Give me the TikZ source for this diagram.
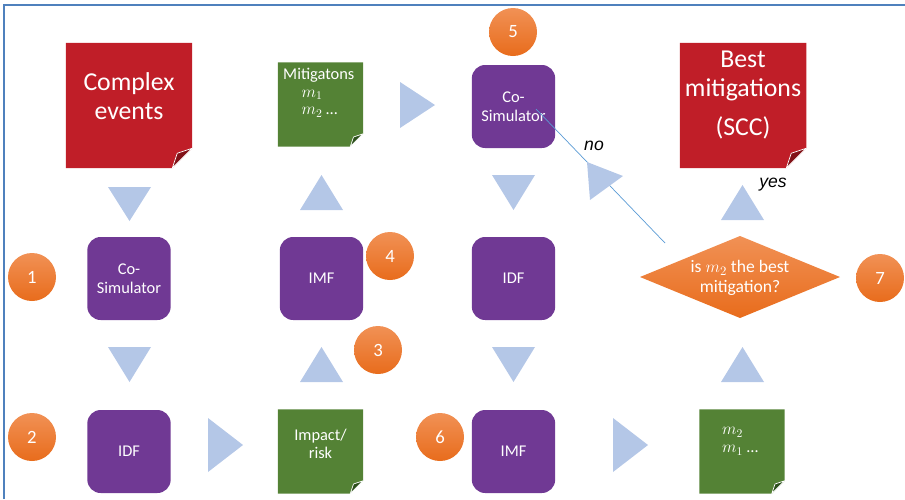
\documentclass[tikz,border=0pt]{standalone}
\usepackage{fontspec}
\setmainfont{Carlito}
\newfontfamily\labfont{Liberation Sans}
\usetikzlibrary{calc,backgrounds}
\definecolor{notered}{RGB}{192,30,40}
\definecolor{notereddark}{RGB}{130,18,24}
\definecolor{notegreen}{RGB}{84,130,53}
\definecolor{notegreendark}{RGB}{45,80,28}
\definecolor{boxpurple}{RGB}{112,57,148}
\definecolor{arrowblue}{RGB}{180,199,231}
\definecolor{frameblue}{RGB}{79,129,189}
\definecolor{orangetop}{RGB}{241,145,85}
\definecolor{orangebot}{RGB}{232,108,28}
\definecolor{lineblue}{RGB}{91,155,213}
\newcommand\foldnote[4]{%
  \fill[#2] (#1.north west) -- (#1.north east) -- ($(#1.south east)+(0,-#4)$) -- ($(#1.south east)+(-#4,0)$) -- (#1.south west) -- cycle;
  \filldraw[fill=#3, draw=white, line width=0.6pt, line join=round] ($(#1.south east)+(-#4,0)$) -- ($(#1.south east)+(-0.75*#4,-0.75*#4)$) -- ($(#1.south east)+(0,-#4)$) -- cycle;
}
\tikzset{
  bignote/.style={rectangle, minimum width=3.78cm, minimum height=3.75cm, inner sep=0pt},
  smallnote/.style={rectangle, minimum width=2.55cm, minimum height=2.52cm, inner sep=0pt},
  notetext/.style={text=white, align=center, inner sep=0pt},
  bigtext/.style={notetext, font=\fontsize{22}{24.7}\selectfont},
  boxtext/.style={notetext, font=\fontsize{14}{15.5}\selectfont},
  listtext/.style={text=white, align=left, inner sep=0pt, font=\fontsize{14}{15}\selectfont},
  cbox/.style={rectangle, rounded corners=0.4cm, fill=boxpurple, minimum width=2.5cm, minimum height=2.49cm, inner sep=0pt, text=white, align=center, font=\fontsize{14}{16}\selectfont},
  circ/.style={circle, minimum size=1.44cm, inner sep=0pt, top color=orangetop, bottom color=orangebot, text=white, font=\fontsize{16}{16}\selectfont},
  tri/.style={fill=arrowblue},
  lab/.style={inner sep=0pt, font=\labfont\itshape\fontsize{15}{15}\selectfont}
}
\begin{document}
\begin{tikzpicture}[x=0.03cm, y=-0.03cm]
\useasboundingbox (0,0) rectangle (905,499);
% frame
\draw[frameblue, line width=1.2pt] (4,499) -- (4,5) -- (905,5);

% notes (shapes)
\node[bignote] (ce) at (129,105.5) {};
\node[bignote] (bm) at (743,105.5) {};
\node[smallnote] (mit) at (320.5,104.5) {};
\node[smallnote] (imp) at (320.5,451.5) {};
\node[smallnote] (mm) at (742,451.5) {};
\begin{scope}[on background layer]
  \foldnote{ce}{notered}{notereddark}{20}
  \foldnote{bm}{notered}{notereddark}{20}
  \foldnote{mit}{notegreen}{notegreendark}{13}
  \foldnote{imp}{notegreen}{notegreendark}{13}
  \foldnote{mm}{notegreen}{notegreendark}{13}
\end{scope}

% note texts
\node[bigtext] (cet) at (129,96) {Complex\\events};
\node[bigtext] (bmt) at (743,95) {Best\\mitigations\\[8.5pt](SCC)};
\node[listtext, anchor=north west] (mitt) at (283,68) {Mitigatons\\\hspace*{0.55cm}$m_1$\\\hspace*{0.55cm}$m_2$ …};
\node[boxtext] (impt) at (320.5,444) {Impact/\\risk};
\node[listtext, anchor=north west, font=\fontsize{14}{15.5}\selectfont] (mmt) at (722,427) {$m_2$\\$m_1$ …};

% purple boxes
\node[cbox] (cs1) at (129,278.5) {Co-\\Simulator};
\node[cbox] (idf1) at (129,451.5) {IDF};
\node[cbox] (imf1) at (321.5,278.5) {IMF};
\node[cbox] (cs2) at (513.5,106.5) {Co-\\Simulator};
\node[cbox] (idf2) at (513.5,278.5) {IDF};
\node[cbox] (imf2) at (513.5,451.5) {IMF};

% diamond
\shade[top color=orangetop, bottom color=orangebot] (740,236) -- (840,277) -- (740,318) -- (640,277) -- cycle;
\node[notetext, font=\fontsize{15}{17}\selectfont] (dia) at (740,278) {is $m_2$ the best\\mitigation?};

% circles
\node[circ] (c1) at (32,277) {1};
\node[circ] (c2) at (32,437) {2};
\node[circ] (c3) at (378,350) {3};
\node[circ] (c4) at (390,256) {4};
\node[circ] (c5) at (513,32) {5};
\node[circ] (c6) at (440,437) {6};
\node[circ] (c7) at (880,278) {7};

% block arrows (triangles)
\fill[tri] (108,187) -- (151,187) -- (129.5,221) -- cycle;
\fill[tri] (108,347) -- (151,347) -- (129.5,382) -- cycle;
\fill[tri] (300,382) -- (343,382) -- (321.5,347) -- cycle;
\fill[tri] (300,210) -- (343,210) -- (321.5,175) -- cycle;
\fill[tri] (208,418) -- (208,472) -- (243,445) -- cycle;
\fill[tri] (400,82) -- (400,128) -- (435,105) -- cycle;
\fill[tri] (492,175) -- (535,175) -- (513.5,210) -- cycle;
\fill[tri] (492,347) -- (535,347) -- (513.5,382) -- cycle;
\fill[tri] (613,418) -- (613,472) -- (648,445) -- cycle;
\fill[tri] (721,382) -- (764,382) -- (742.5,347) -- cycle;
\fill[tri] (721,220) -- (764,220) -- (742.5,185) -- cycle;

% feedback line
\coordinate (lnA) at (665,243);
\coordinate (lnB) at (536,109);
\draw[lineblue, line width=0.6pt] (lnA) -- (lnB);
\fill[tri] (587,162) -- (623,176) -- (590,200) -- cycle;

% labels
\node[lab] (no) at (594,146) {no};
\node[lab] (yes) at (773,185) {yes};
\end{tikzpicture}
\end{document}
